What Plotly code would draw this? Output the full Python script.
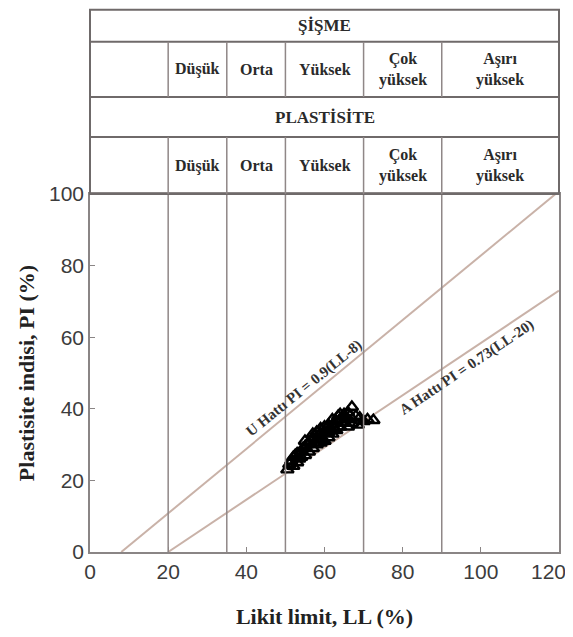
import plotly.graph_objects as go

# ---- data ----
ll_values = [50.5, 51, 51.5, 52, 52, 52.5, 53, 53, 53.5, 54, 54, 54.5, 55, 55, 55.5, 56, 56,
             56.5, 57, 57, 57.5, 58, 58, 58.5, 59, 59, 59.5, 60, 60, 60.5, 61, 61, 61.5,
             62, 62, 62.5, 63, 63, 63.5, 64, 64, 64.5, 65, 65, 65.5, 66, 66, 66.5, 67, 67,
             68, 68.5, 69, 70, 71, 72.5, 58, 60, 62, 64, 66, 55, 57, 59, 61]
pi_values = [23, 24.5, 25.5, 24, 26.5, 27, 25, 27.5, 26, 28, 26.5, 29, 27, 29.5, 30, 28,
             30.5, 31, 29, 32, 30.5, 30, 31.5, 32.5, 30.5, 33, 31.5, 31, 33.5, 34.5, 32, 33.5,
             34, 33, 35.5, 34.5, 34, 36.5, 38, 35, 37, 36, 36, 38.5, 37.5, 37, 39, 38, 40.5,
             36, 38, 35.5, 37.5, 36.5, 37, 36.8, 33.5, 35, 37, 38.5, 35, 31, 33, 34.5, 35.5]

u_line_ll = [8, 120]
u_line_pi = [0, 100.8]
a_line_ll = [20, 120]
a_line_pi = [0, 73]

class_bounds = [20, 35, 50, 70, 90]
class_labels = ["Düşük", "Orta", "Yüksek", "Çok<br>yüksek", "Aşırı<br>yüksek"]
class_centers = [27.5, 42.5, 60, 80, 105]

x_ticks = [0, 20, 40, 60, 80, 100]
x_last_tick = 120
y_ticks = [0, 20, 40, 60, 80, 100]

# ---- figure ----
fig = go.Figure()

line_col = "#c9b2a8"
fig.add_trace(go.Scatter(x=u_line_ll, y=u_line_pi, mode="lines",
                         line=dict(color=line_col, width=2), showlegend=False))
fig.add_trace(go.Scatter(x=a_line_ll, y=a_line_pi, mode="lines",
                         line=dict(color=line_col, width=2), showlegend=False))
fig.add_trace(go.Scatter(x=ll_values, y=pi_values, mode="markers",
                         marker=dict(symbol="triangle-up-open", size=11, color="black",
                                     line=dict(width=2.4, color="black")),
                         showlegend=False))

border = "#6f6a6a"
vcol = "#8f8787"
shapes = []
for b in class_bounds:
    shapes.append(dict(type="line", xref="x", yref="paper", x0=b, x1=b, y0=0, y1=1,
                       line=dict(color=vcol, width=1.5)))

t_top, r1, r2, r3, t_bot = 1.515, 1.425, 1.271, 1.159, 1.0
shapes.append(dict(type="rect", xref="paper", yref="paper", x0=0, x1=1, y0=t_bot, y1=t_top,
                   line=dict(color=border, width=2)))
for yy in [r1, r2, r3]:
    shapes.append(dict(type="line", xref="paper", yref="paper", x0=0, x1=1, y0=yy, y1=yy,
                       line=dict(color=border, width=2)))
for b in class_bounds:
    shapes.append(dict(type="line", xref="x", yref="paper", x0=b, x1=b, y0=r2, y1=r1,
                       line=dict(color=vcol, width=1.5)))
    shapes.append(dict(type="line", xref="x", yref="paper", x0=b, x1=b, y0=t_bot, y1=r3,
                       line=dict(color=vcol, width=1.5)))

serif = "Liberation Serif"
tcol = "#2a2a2a"
annotations = [
    dict(xref="paper", yref="paper", x=0.5, y=(t_top + r1) / 2, text="<b>ŞİŞME</b>",
         xanchor="center", yanchor="middle",
         showarrow=False, font=dict(family=serif, size=17, color=tcol)),
    dict(xref="paper", yref="paper", x=0.5, y=(r2 + r3) / 2, text="<b>PLASTİSİTE</b>",
         xanchor="center", yanchor="middle",
         showarrow=False, font=dict(family=serif, size=17, color=tcol)),
]
for c, lab in zip(class_centers, class_labels):
    annotations.append(dict(xref="x", yref="paper", x=c, y=(r1 + r2) / 2, text="<b>" + lab + "</b>",
                            xanchor="center", yanchor="middle",
                            showarrow=False, font=dict(family=serif, size=16, color=tcol)))
    annotations.append(dict(xref="x", yref="paper", x=c, y=(r3 + t_bot) / 2, text="<b>" + lab + "</b>",
                            xanchor="center", yanchor="middle",
                            showarrow=False, font=dict(family=serif, size=16, color=tcol)))

annotations.append(dict(x=54.7, y=45.8, text="<b>U Hattı PI = 0.9(LL-8)</b>", textangle=-39,
                        showarrow=False, font=dict(family=serif, size=15, color="#333")))
annotations.append(dict(x=96.4, y=51.4, text="<b>A Hattı PI = 0.73(LL-20)</b>", textangle=-34,
                        showarrow=False, font=dict(family=serif, size=15, color="#333")))

tickfont = dict(family="Liberation Sans", size=21, color="#3c3c3c")
annotations.append(dict(xref="x", yref="paper", x=x_last_tick, y=0, yanchor="top",
                        xanchor="center", xshift=-11, yshift=-6, text=str(x_last_tick),
                        showarrow=False, font=tickfont))

axis_common = dict(showgrid=False, zeroline=False, showline=True, linecolor="#8a8585",
                   linewidth=1.5, mirror=True, ticks="inside", ticklen=5, tickcolor="#8a8585",
                   tickfont=tickfont, automargin=False)

fig.update_layout(
    width=557, height=621,
    margin=dict(l=82, r=6, t=186, b=77),
    paper_bgcolor="white", plot_bgcolor="white",
    shapes=shapes, annotations=annotations,
    xaxis=dict(range=[0, 120], tickvals=x_ticks + [x_last_tick],
               ticktext=[str(v) for v in x_ticks] + [""],
               title=dict(text="<b>Likit limit, LL (%)</b>", standoff=30,
                          font=dict(family=serif, size=22, color="#222")),
               **axis_common),
    yaxis=dict(range=[0, 100], tickvals=y_ticks,
               title=dict(text="<b>Plastisite indisi, PI (%)</b>", standoff=8,
                          font=dict(family=serif, size=22, color="#222")),
               **axis_common),
)

fig.write_html("out.html")
